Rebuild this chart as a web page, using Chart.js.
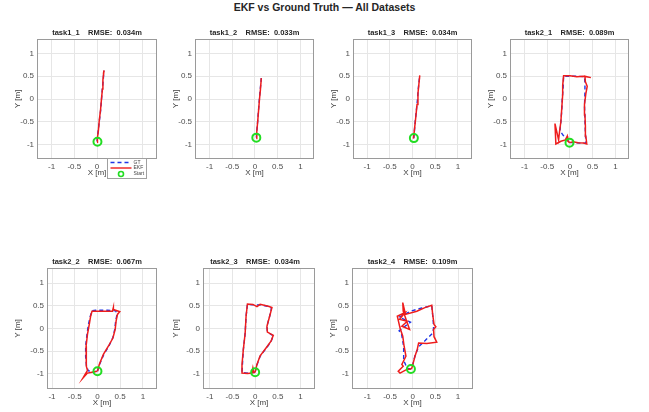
<!DOCTYPE html>
<html lang="en">
<head>
<meta charset="UTF-8">
<title>EKF vs Ground Truth</title>
<script src="https://cdn.jsdelivr.net/npm/chart.js"></script>
<style>
    body {
        margin: 0;
        background: #fff;
        width: 649px;
        height: 412px;
        overflow: hidden;
        position: relative;
        font-family: "Liberation Sans", Arial, sans-serif;
    }
    #mainTitle {
        position: absolute;
        left: 0;
        top: 1px;
        width: 649px;
        text-align: center;
        font-weight: bold;
        font-size: 10.5px;
        color: #262626;
    }
    canvas { position: absolute; }
</style>
</head>
<body>
<div id="mainTitle">EKF vs Ground Truth — All Datasets</div>
<script>
// ---- data ----
var tickValues = [-1, -0.5, 0, 0.5, 1];
var datasetNames = ['task1_1', 'task1_2', 'task1_3', 'task2_1', 'task2_2', 'task2_3', 'task2_4'];
var rmseValues = [0.034, 0.033, 0.034, 0.089, 0.067, 0.034, 0.109];
var seriesLabels = ['GT', 'EKF', 'Start'];

var gtTask1_1 = [[0.00,-0.93],[0.02,-0.75],[0.05,-0.50],[0.08,-0.25],[0.10,0.00],[0.12,0.25],[0.14,0.45],[0.15,0.62]];
var ekfTask1_1 = [[0.00,-0.95],[0.01,-0.85],[0.03,-0.70],[0.05,-0.47],[0.08,-0.22],[0.10,0.02],[0.12,0.22],[0.13,0.42],[0.155,0.63],[0.14,0.55]];

var gtTask1_2 = [[0.03,-0.85],[0.05,-0.60],[0.07,-0.35],[0.09,-0.10],[0.11,0.15],[0.13,0.35],[0.14,0.46]];
var ekfTask1_2 = [[0.03,-0.87],[0.04,-0.72],[0.06,-0.50],[0.08,-0.25],[0.10,0.00],[0.12,0.20],[0.14,0.46]];

var gtTask1_3 = [[0.03,-0.86],[0.05,-0.60],[0.08,-0.30],[0.11,0.00],[0.13,0.25],[0.16,0.52]];
var ekfTask1_3 = [[0.02,-0.87],[0.04,-0.70],[0.07,-0.42],[0.10,-0.12],[0.12,0.12],[0.14,0.32],[0.16,0.52]];

var gtTask2_1 = [[-0.01,-0.96],[0.10,-0.96],[0.22,-0.97],[0.35,-0.97],[0.34,-0.75],[0.33,-0.45],[0.32,-0.15],[0.33,0.15],[0.33,0.35],[0.32,0.49],[0.15,0.50],[0.00,0.50],[-0.14,0.50],[-0.15,0.25],[-0.17,0.00],[-0.18,-0.25],[-0.20,-0.50],[-0.22,-0.70],[-0.15,-0.80],[-0.07,-0.88],[-0.01,-0.96]];
var ekfTask2_1 = [[-0.01,-0.96],[0.07,-0.94],[0.18,-0.96],[0.30,-0.97],[0.37,-0.99],[0.35,-0.82],[0.34,-0.60],[0.33,-0.35],[0.32,-0.12],[0.35,0.12],[0.38,0.28],[0.34,0.38],[0.33,0.50],[0.46,0.47],[0.30,0.50],[0.15,0.49],[0.00,0.51],[-0.14,0.51],[-0.16,0.30],[-0.16,0.10],[-0.18,-0.20],[-0.20,-0.50],[-0.23,-0.72],[-0.25,-0.90],[-0.33,-0.54],[-0.31,-0.99],[-0.20,-0.93],[-0.10,-0.90],[-0.06,-0.82],[-0.05,-0.92],[-0.01,-0.96]];

var gtTask2_2 = [[0.00,-0.94],[0.05,-0.78],[0.14,-0.57],[0.25,-0.39],[0.34,-0.20],[0.38,-0.02],[0.40,0.16],[0.43,0.31],[0.40,0.39],[0.22,0.40],[-0.04,0.40],[-0.12,0.39],[-0.16,0.26],[-0.20,0.08],[-0.23,-0.13],[-0.26,-0.39],[-0.26,-0.62],[-0.24,-0.84],[-0.20,-0.93],[-0.10,-0.95],[0.00,-0.94]];
var ekfTask2_2 = [[0.00,-0.94],[0.04,-0.79],[0.13,-0.57],[0.24,-0.39],[0.34,-0.21],[0.39,-0.02],[0.41,0.16],[0.44,0.31],[0.49,0.37],[0.35,0.42],[0.35,0.46],[0.33,0.38],[0.21,0.38],[-0.05,0.38],[-0.12,0.38],[-0.15,0.27],[-0.18,0.09],[-0.22,-0.13],[-0.25,-0.39],[-0.25,-0.61],[-0.24,-0.83],[-0.22,-0.92],[-0.32,-1.09],[-0.22,-0.98],[-0.12,-0.96],[-0.01,-0.94]];

var gtTask2_3 = [[0.00,-0.96],[0.04,-0.80],[0.11,-0.61],[0.24,-0.44],[0.35,-0.29],[0.40,-0.16],[0.27,-0.08],[0.26,0.05],[0.32,0.27],[0.36,0.45],[0.28,0.49],[0.11,0.52],[-0.05,0.52],[-0.17,0.53],[-0.20,0.27],[-0.22,-0.10],[-0.26,-0.46],[-0.28,-0.79],[-0.29,-0.97],[-0.17,-0.98],[-0.07,-0.97],[0.00,-0.96]];
var ekfTask2_3 = [[0.00,-0.96],[0.04,-0.79],[0.11,-0.60],[0.24,-0.43],[0.35,-0.28],[0.40,-0.15],[0.27,-0.08],[0.26,0.05],[0.32,0.27],[0.37,0.46],[0.29,0.49],[0.11,0.53],[0.04,0.48],[-0.05,0.53],[-0.17,0.54],[-0.20,0.27],[-0.22,-0.10],[-0.26,-0.46],[-0.29,-0.79],[-0.29,-0.98],[-0.17,-0.99],[-0.07,-0.98],[-0.05,-0.87],[-0.03,-0.97],[0.00,-0.96]];

var gtTask2_4 = [[-0.04,-0.89],[-0.12,-0.88],[-0.20,-0.70],[-0.20,-0.40],[-0.25,-0.10],[-0.30,-0.05],[-0.05,0.14],[-0.30,0.25],[-0.05,0.38],[0.20,0.45],[0.42,0.50],[0.45,0.20],[0.46,0.00],[0.44,-0.10],[0.28,-0.26],[0.13,-0.40],[0.05,-0.60],[0.00,-0.80],[-0.04,-0.89]];
var ekfTask2_4 = [[-0.04,-0.89],[-0.13,-0.90],[-0.28,-0.98],[-0.32,-0.94],[-0.21,-0.83],[-0.24,-0.79],[-0.15,-0.61],[-0.19,-0.39],[-0.22,-0.17],[-0.28,0.01],[-0.34,0.27],[-0.17,0.35],[-0.29,0.20],[-0.12,0.16],[-0.24,0.05],[-0.07,-0.02],[-0.21,0.38],[-0.22,0.57],[-0.16,0.31],[0.09,0.38],[0.27,0.46],[0.42,0.51],[0.44,0.31],[0.47,0.09],[0.51,0.04],[0.46,-0.02],[0.47,-0.18],[0.53,-0.30],[0.31,-0.33],[0.13,-0.32],[0.10,-0.46],[0.05,-0.61],[0.01,-0.76],[-0.02,-0.87],[-0.04,-0.89]];

var gtPaths = [gtTask1_1, gtTask1_2, gtTask1_3, gtTask2_1, gtTask2_2, gtTask2_3, gtTask2_4];
var ekfPaths = [ekfTask1_1, ekfTask1_2, ekfTask1_3, ekfTask2_1, ekfTask2_2, ekfTask2_3, ekfTask2_4];
var startPoints = [[0.01,-0.94],[0.03,-0.85],[0.03,-0.86],[-0.01,-0.96],[0.00,-0.94],[0.00,-0.96],[-0.04,-0.89]];

// ---- layout: plot box [left, top, width, height], left axis width and axis limits ----
var frames = [[37,39,120,120],[195,39,119,120],[353,39,119,120],[510,39,119,120],
              [47,268,110,121],[203,268,112,121],[352,268,121,121]];
var axisWidths = [32, 32, 32, 32, 42, 40, 32];
var xLimits = [[-1.32,1.32],[-1.32,1.30],[-1.31,1.31],[-1.32,1.30],[-1.11,1.31],[-1.15,1.32],[-1.34,1.33]];
var yLimits = [[-1.32,1.32],[-1.32,1.32],[-1.32,1.32],[-1.32,1.32],[-1.33,1.33],[-1.33,1.33],[-1.33,1.33]];

var padR = 32, titleH = 16, xAxisH = 20, padB = 6;
var fontFam = '"Liberation Sans", Arial, sans-serif';

function toXY(pts) {
    return pts.map(function(p) { return {x: p[0], y: p[1]}; });
}

// box around the plot area, like MATLAB's axes box
var framePlugin = {
    id: 'frameBox',
    afterDatasetsDraw: function(chart) {
        var a = chart.chartArea, ctx = chart.ctx;
        ctx.save();
        ctx.strokeStyle = '#9a9a9a';
        ctx.lineWidth = 1;
        ctx.strokeRect(Math.round(a.left) + 0.5, Math.round(a.top) + 0.5,
                       Math.round(a.right - a.left) - 1, Math.round(a.bottom - a.top) - 1);
        ctx.restore();
    }
};

// small boxed legend sitting on the lower right corner of the first plot
var boxLegend = {
    id: 'boxLegend',
    afterDraw: function(chart) {
        var a = chart.chartArea, ctx = chart.ctx;
        var x0 = Math.round(a.right) - 49.5, y0 = Math.round(a.bottom) - 0.5;
        ctx.save();
        ctx.fillStyle = '#fff';
        ctx.fillRect(x0, y0, 39, 20);
        ctx.strokeStyle = '#a0a0a0';
        ctx.lineWidth = 1;
        ctx.strokeRect(x0, y0, 39, 20);
        ctx.font = '5px ' + fontFam;
        ctx.textBaseline = 'middle';
        chart.data.datasets.forEach(function(ds, i) {
            var y = y0 + 4 + i * 5.5;
            if (ds.showLine) {
                ctx.beginPath();
                ctx.setLineDash(ds.borderDash || []);
                ctx.strokeStyle = ds.borderColor;
                ctx.lineWidth = 1.4;
                ctx.moveTo(x0 + 3, y);
                ctx.lineTo(x0 + 24, y);
                ctx.stroke();
                ctx.setLineDash([]);
            } else {
                ctx.beginPath();
                ctx.strokeStyle = ds.pointBorderColor;
                ctx.lineWidth = 1.6;
                ctx.arc(x0 + 13.5, y + 0.5, 2.5, 0, Math.PI * 2);
                ctx.stroke();
            }
            ctx.fillStyle = '#444';
            ctx.fillText(ds.label, x0 + 26, y);
        });
        ctx.restore();
    }
};

datasetNames.forEach(function(name, i) {
    var f = frames[i];
    var padL = axisWidths[i];
    var cv = document.createElement('canvas');
    cv.width = f[2] + padL + padR;
    cv.height = titleH + f[3] + xAxisH + padB;
    cv.style.left = (f[0] - padL) + 'px';
    cv.style.top = (f[1] - titleH) + 'px';
    document.body.appendChild(cv);

    var s = startPoints[i];
    var axisCommon = {
        type: 'linear',
        afterBuildTicks: function(sc) {
            sc.ticks = tickValues.map(function(v) { return {value: v}; });
        },
        ticks: {
            font: {size: 8, family: fontFam},
            color: '#4d4d4d',
            padding: 3,
            maxRotation: 0,
            callback: function(v) { return String(v); }
        },
        grid: {color: '#e6e6e6', drawTicks: false, lineWidth: 1},
        border: {display: false}
    };

    new Chart(cv.getContext('2d'), {
        type: 'scatter',
        data: {
            datasets: [{
                label: seriesLabels[0],
                data: toXY(gtPaths[i]),
                showLine: true,
                borderColor: '#1f35e6',
                borderWidth: 1.4,
                borderDash: [4, 3],
                pointRadius: 0,
                tension: 0,
                order: 2
            }, {
                label: seriesLabels[1],
                data: toXY(ekfPaths[i]),
                showLine: true,
                borderColor: '#ee1c1c',
                borderWidth: 1.5,
                pointRadius: 0,
                tension: 0,
                order: 1
            }, {
                label: seriesLabels[2],
                data: [{x: s[0], y: s[1]}],
                showLine: false,
                pointRadius: 4,
                pointBorderColor: '#22dd22',
                pointBackgroundColor: 'rgba(0,0,0,0)',
                pointBorderWidth: 2,
                order: 0
            }]
        },
        options: {
            responsive: false,
            animation: false,
            events: [],
            layout: {padding: {left: 0, right: 0, top: 0, bottom: padB}},
            plugins: {
                legend: {display: false},
                tooltip: {enabled: false},
                title: {
                    display: true,
                    text: name + '    RMSE:  ' + rmseValues[i].toFixed(3) + 'm',
                    color: '#262626',
                    font: {size: 7.5, weight: 'bold', family: fontFam},
                    padding: {top: 5.5, bottom: 1.5}
                }
            },
            scales: {
                x: Object.assign({}, axisCommon, {
                    min: xLimits[i][0],
                    max: xLimits[i][1],
                    title: {display: true, text: 'X [m]', color: '#404040',
                            font: {size: 8, family: fontFam},
                            padding: {top: 0, bottom: 1}},
                    afterFit: function(sc) { sc.height = xAxisH; }
                }),
                y: Object.assign({}, axisCommon, {
                    min: yLimits[i][0],
                    max: yLimits[i][1],
                    title: {display: true, text: 'Y [m]', color: '#404040',
                            font: {size: 8, family: fontFam},
                            padding: {top: 8, bottom: 0}},
                    afterFit: function(sc) { sc.width = padL; }
                }),
                // empty right-hand axis only keeps the plot box centred under its title
                yRight: {
                    type: 'linear',
                    position: 'right',
                    min: yLimits[i][0],
                    max: yLimits[i][1],
                    grid: {display: false},
                    ticks: {display: false},
                    border: {display: false},
                    afterFit: function(sc) { sc.width = padR; }
                }
            }
        },
        plugins: i === 0 ? [framePlugin, boxLegend] : [framePlugin]
    });
});
</script>
</body>
</html>
